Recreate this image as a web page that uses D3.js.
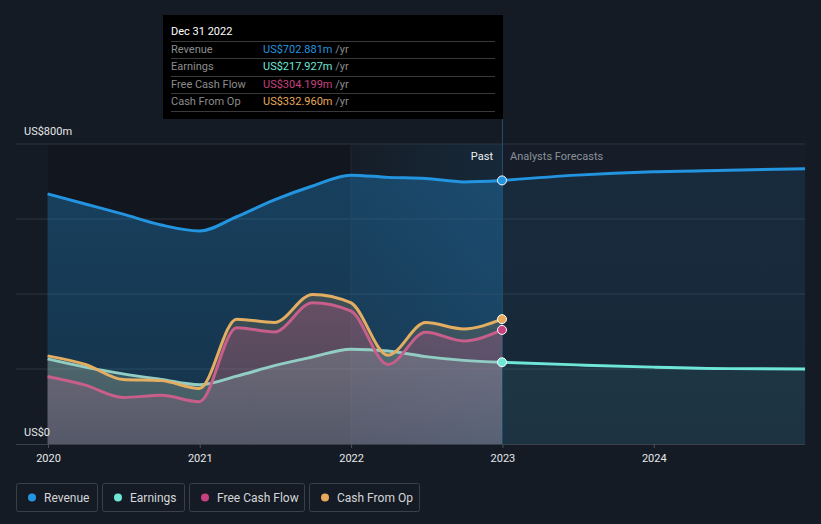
<!DOCTYPE html>
<html><head><meta charset="utf-8">
<script src="https://cdn.jsdelivr.net/npm/d3@7/dist/d3.min.js"></script>
<style>
html,body{margin:0;padding:0;background:#151b24;}
svg{display:block;font-family:Roboto,"Noto Sans",sans-serif;}
</style></head>
<body>
<svg id="chart" width="821" height="524"></svg>
<script>
// ---- data ----
const pastDates = ["2019-12-31","2020-03-31","2020-06-30","2020-09-30","2020-12-31","2021-03-31","2021-06-30","2021-09-30","2021-12-31","2022-03-31","2022-06-30","2022-09-30","2022-12-31"];
const revenuePast = [667,640,613,584,568,606,651,688,717,711,708,699,702.881];
const earningsPast = [227,205,187,172,158,181,209,232,253,248,233,223,217.927];
const fcfPast = [180,157,124,130,113,310,299,377,355,212,298,275,304.199];
const cfoPast = [235,212,172,169,148,333,324,399,377,237,324,307,332.960];
const forecastDates = ["2022-12-31","2023-06-30","2023-12-31","2024-06-30","2024-12-31"];
const revenueForecast = [702.881,717,726,730,734];
const earningsForecast = [217.927,211,205,201,200];
const yTicks = [0,200,400,600,800];
const yTickLabels = ["US$0","","","","US$800m"];
const xTickYears = [2020,2021,2022,2023,2024];
const seriesNames = ["Revenue","Earnings","Free Cash Flow","Cash From Op"];
const seriesColors = ["#2394df","#6ee7d8","#c7407f","#e8a95a"];
const tooltipTitle = "Dec 31 2022";
const tooltipValues = ["US$702.881m","US$217.927m","US$304.199m","US$332.960m"];

// ---- setup ----
const svg = d3.select("#chart");
const parse = d3.timeParse("%Y-%m-%d");
const x = d3.scaleTime().domain([new Date(2020,0,1), new Date(2025,0,1)]).range([48, 805.5]);
const y = d3.scaleLinear().domain([0,800]).range([444,144]);
const plotLeft = 16, plotRight = 805;
const nowDate = parse("2022-12-31");
const xNow = x(nowDate);

const defs = svg.append("defs");
function vGrad(id, color, o1, o2){
  const g = defs.append("linearGradient").attr("id", id)
    .attr("gradientUnits","userSpaceOnUse").attr("x1",0).attr("x2",0).attr("y1",y(800)).attr("y2",y(0));
  g.append("stop").attr("offset","0%").attr("stop-color",color).attr("stop-opacity",o1);
  g.append("stop").attr("offset","100%").attr("stop-color",color).attr("stop-opacity",o2);
}
vGrad("gRevP", "#2394df", 0.34, 0.22);
vGrad("gCfoP", "#e8a95a", 0.28, 0.10);
vGrad("gFcfP", "#d0508a", 0.40, 0.16);
vGrad("gEarnP", "#b4e6de", 0.30, 0.14);
vGrad("gRevF", "#2394df", 0.12, 0.08);
vGrad("gEarnF", "#6ee7d8", 0.11, 0.06);
const hg = defs.append("linearGradient").attr("id","gHi").attr("x1",0).attr("x2",1).attr("y1",0).attr("y2",0);
hg.append("stop").attr("offset","0%").attr("stop-color","#2394df").attr("stop-opacity",0.02);
hg.append("stop").attr("offset","100%").attr("stop-color","#2394df").attr("stop-opacity",0.11);

// background regions
svg.append("rect").attr("x",x(new Date(2020,0,1))).attr("y",y(800)).attr("width",x(new Date(2022,0,1))-x(new Date(2020,0,1))).attr("height",y(0)-y(800)).attr("fill","#0d1117").attr("opacity",0.35);
svg.append("rect").attr("x",x(new Date(2022,0,1))).attr("y",y(800)).attr("width",xNow-x(new Date(2022,0,1))).attr("height",y(0)-y(800)).attr("fill","url(#gHi)");
svg.append("rect").attr("x",xNow).attr("y",y(800)).attr("width",plotRight-xNow).attr("height",y(0)-y(800)).attr("fill","#1a2330").attr("opacity",0.35);

// gridlines
svg.append("g").selectAll("line").data(yTicks.filter(d=>d>0)).join("line")
  .attr("x1",plotLeft).attr("x2",plotRight).attr("y1",d=>y(d)).attr("y2",d=>y(d))
  .attr("stroke","#2d343e").attr("stroke-width",1);
svg.append("line").attr("x1",x(new Date(2022,0,1))).attr("x2",x(new Date(2022,0,1))).attr("y1",y(800)).attr("y2",y(0)).attr("stroke","#1e2a36").attr("stroke-width",1);

const past = pastDates.map(parse);
const fut = forecastDates.map(parse);
const curve = d3.curveMonotoneX;
function area(dates, vals){ return d3.area().x((d,i)=>x(dates[i])).y0(y(0)).y1(d=>y(d)).curve(curve)(vals); }
function line(dates, vals){ return d3.line().x((d,i)=>x(dates[i])).y(d=>y(d)).curve(curve)(vals); }

// areas
svg.append("path").attr("d",area(fut,revenueForecast)).attr("fill","url(#gRevF)");
svg.append("path").attr("d",area(fut,earningsForecast)).attr("fill","url(#gEarnF)");
svg.append("path").attr("d",area(past,revenuePast)).attr("fill","url(#gRevP)");
svg.append("path").attr("d",area(past,cfoPast)).attr("fill","url(#gCfoP)");
svg.append("path").attr("d",area(past,fcfPast)).attr("fill","url(#gFcfP)");
svg.append("path").attr("d",area(past,earningsPast)).attr("fill","url(#gEarnP)");

// lines
svg.append("path").attr("d",line(fut,revenueForecast)).attr("fill","none").attr("stroke","#2394df").attr("stroke-width",3);
svg.append("path").attr("d",line(fut,earningsForecast)).attr("fill","none").attr("stroke","#6ee7d8").attr("stroke-width",3);
svg.append("path").attr("d",line(past,revenuePast)).attr("fill","none").attr("stroke","#2394df").attr("stroke-width",3);
svg.append("path").attr("d",line(past,earningsPast)).attr("fill","none").attr("stroke","#92cdc4").attr("stroke-width",3);
svg.append("path").attr("d",line(past,fcfPast)).attr("fill","none").attr("stroke","#c75f8a").attr("stroke-width",3);
svg.append("path").attr("d",line(past,cfoPast)).attr("fill","none").attr("stroke","#e3ae62").attr("stroke-width",3);

// axis
svg.append("line").attr("x1",plotLeft).attr("x2",plotRight).attr("y1",y(0)+0.5).attr("y2",y(0)+0.5).attr("stroke","#3a404a").attr("stroke-width",1);
const xAxis = d3.axisBottom(x).tickValues(xTickYears.map(yr=>new Date(yr,0,1))).tickFormat(d3.timeFormat("%Y")).tickSize(4).tickPadding(6);
const gx = svg.append("g").attr("transform",`translate(0,${y(0)})`).call(xAxis);
gx.select(".domain").remove();
gx.selectAll(".tick line").attr("stroke","#4a505a");
gx.selectAll(".tick text").attr("fill","#e6e8ea").attr("font-size",11).attr("font-family","Roboto,sans-serif");

// y labels
svg.append("g").selectAll("text").data(yTicks.filter((d,i)=>yTickLabels[i])).join("text")
  .attr("x",24).attr("y",d=> d===0 ? y(d)-8 : y(d)-9)
  .attr("fill","#e6e8ea").attr("font-size",11)
  .text(d=>yTickLabels[yTicks.indexOf(d)]);

// past / forecast labels
svg.append("text").attr("x",xNow-9).attr("y",160).attr("text-anchor","end").attr("fill","#eef0f2").attr("font-size",11).text("Past");
svg.append("text").attr("x",xNow+8).attr("y",160).attr("fill","#8a9099").attr("font-size",11).text("Analysts Forecasts");

// hover line
svg.append("line").attr("x1",xNow+0.5).attr("x2",xNow+0.5).attr("y1",119).attr("y2",y(0)).attr("stroke","#1f4d6b").attr("stroke-width",1);

// dots
const dotVals = [revenuePast[12], earningsPast[12], fcfPast[12], cfoPast[12]];
svg.append("g").selectAll("circle").data(dotVals).join("circle")
  .attr("cx",xNow).attr("cy",d=>y(d)).attr("r",4.5)
  .attr("fill",(d,i)=>seriesColors[i]).attr("stroke","#ffffff").attr("stroke-width",1);

// tooltip
const tt = svg.append("g");
tt.append("rect").attr("x",163).attr("y",15).attr("width",340).attr("height",104).attr("fill","#000000");
tt.append("text").attr("x",171).attr("y",35).attr("fill","#ffffff").attr("font-size",11).text(tooltipTitle);
const rowY = [49,66,84,101];
const sepY = [41,58,76,93,111];
tt.selectAll("line").data(sepY).join("line").attr("x1",171).attr("x2",495).attr("y1",d=>d+0.5).attr("y2",d=>d+0.5).attr("stroke","#3a3a3a");
seriesNames.forEach((n,i)=>{
  tt.append("text").attr("x",171).attr("y",rowY[i]+4).attr("fill","#8c8c8c").attr("font-size",11).text(n);
  const t = tt.append("text").attr("x",263).attr("y",rowY[i]+4).attr("font-size",11);
  t.append("tspan").attr("fill",seriesColors[i]).text(tooltipValues[i]);
  t.append("tspan").attr("fill","#8c8c8c").text(" /yr");
});

// legend
const legX = [16,102,189,309];
const legW = [81,82,115,110];
const lg = svg.append("g");
seriesNames.forEach((n,i)=>{
  lg.append("rect").attr("x",legX[i]+0.5).attr("y",483.5).attr("width",legW[i]).attr("height",28).attr("rx",2)
    .attr("fill","none").attr("stroke","#3a404a");
  lg.append("circle").attr("cx",legX[i]+16).attr("cy",497.5).attr("r",4).attr("fill",seriesColors[i]);
  lg.append("text").attr("x",legX[i]+28).attr("y",501.5).attr("fill","#d4d6d9").attr("font-size",12).text(n);
});
</script>
</body></html>
